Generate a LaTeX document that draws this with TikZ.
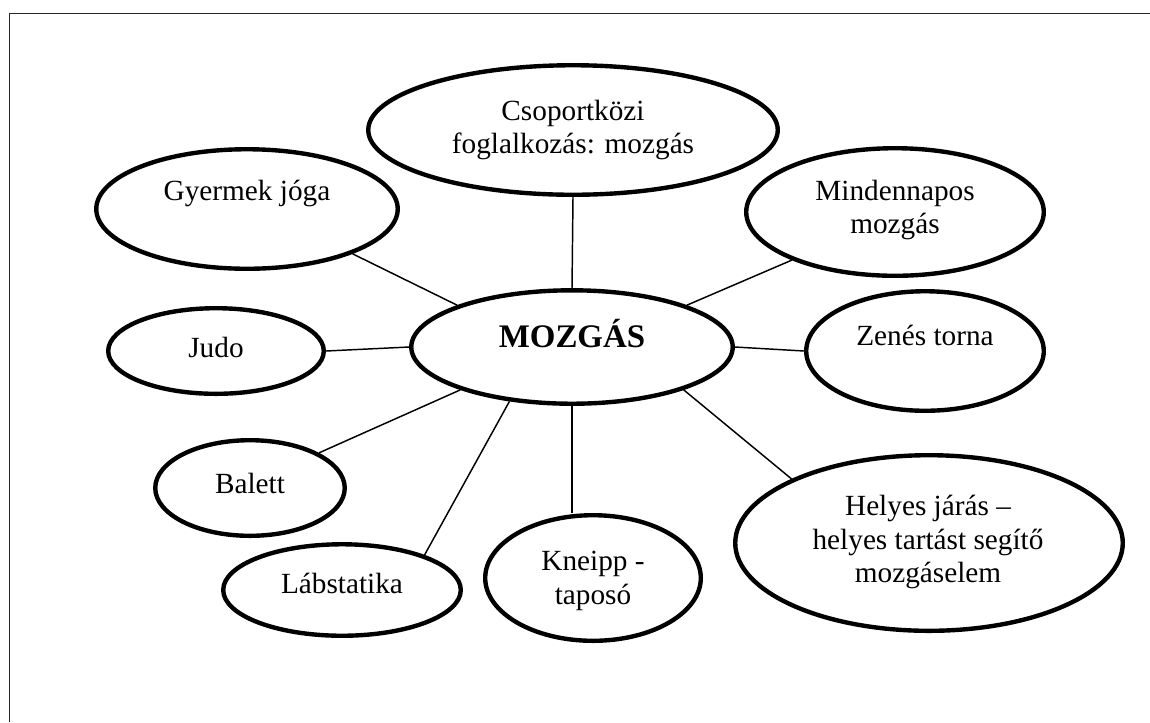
\documentclass[tikz,border=0pt]{standalone}
\usepackage{fontspec}
\setmainfont{Liberation Serif}
\usetikzlibrary{shapes.geometric}

\begin{document}
\begin{tikzpicture}[x = .41pt, y = -.41pt,
  oval/.style = {draw, ellipse, line width = 1.8pt, inner sep = 0pt},
  txt/.style = {font = \fontsize{12}{13.8}\selectfont, align = center},
  link/.style = {line width = .6pt}]
\useasboundingbox (0,0) rectangle (1150,722);
\draw[line width = .8pt, black!85] (9.5,722) |- (1150,13.5);

\node[oval, minimum width = 167.9pt, minimum height = 53.1pt] (csop) at (573,130) {};
\node[oval, minimum width = 123.6pt, minimum height = 49pt] (gyoga) at (247,209) {};
\node[oval, minimum width = 122pt, minimum height = 52.3pt] (minden) at (895,212) {};
\node[oval, minimum width = 88.4pt, minimum height = 35.1pt] (judo) at (216,351) {};
\node[oval, minimum width = 131.8pt, minimum height = 46.5pt] (moz) at (572,347) {};
\node[oval, minimum width = 97.4pt, minimum height = 49pt] (zenes) at (925,351) {};
\node[oval, minimum width = 77.7pt, minimum height = 39.2pt] (balett) at (250,488) {};
\node[oval, minimum width = 97.4pt, minimum height = 37.5pt] (labst) at (342,590) {};
\node[oval, minimum width = 88.4pt, minimum height = 51.5pt] (kneipp) at (593,578) {};
\node[oval, minimum width = 158.9pt, minimum height = 72pt] (helyes) at (929,543) {};

\node[txt] (csopt) at (573,130) {Csoportközi\\foglalkozás: mozgás};
\node[txt] (gyogat) at (247,193) {Gyermek jóga};
\node[txt] (mindent) at (895,210) {Mindennapos\\mozgás};
\node[txt] (judot) at (216,347) {Judo};
\node[txt, font = \fontsize{13.5}{16}\selectfont\bfseries] (mozt) at (572,334) {MOZGÁS};
\node[txt] (zenest) at (925,335) {Zenés torna};
\node[txt] (balettt) at (250,483) {Balett};
\node[txt] (labstt) at (342,583) {Lábstatika};
\node[txt] (kneippt) at (593,581) {Kneipp -\\taposó};
\node[txt] (helyest) at (928,542) {Helyes járás –\\helyes tartást segítő\\mozgáselem};

\draw[link] (csop.south) -- (moz.north);
\draw[link] (gyoga.-23) -- (moz.160);
\draw[link] (judo.east) -- (moz.west);
\draw[link] (minden.205) -- (moz.20);
\draw[link] (moz.east) -- (zenes.west);
\draw[link] (balett.27) -- (moz.201);
\draw[link] (labst.23) -- (moz.221);
\draw[link] (moz.south) -- (moz.south |- kneipp.north);
\draw[link] (helyes.155) -- (moz.339);
\end{tikzpicture}
\end{document}
